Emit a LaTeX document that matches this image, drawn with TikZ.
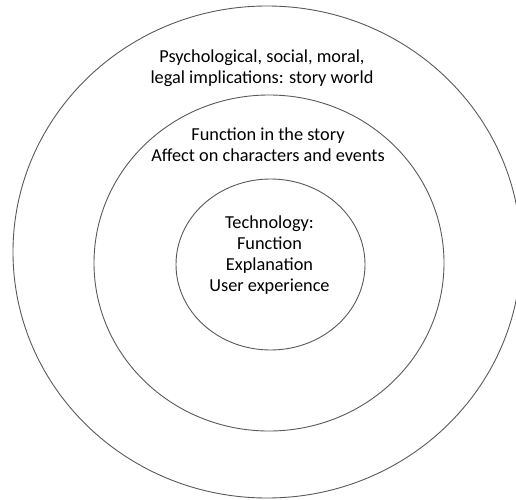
\documentclass[tikz,border=0pt]{standalone}
\usepackage{fontspec}
\setmainfont{Carlito}
\usetikzlibrary{positioning}

\begin{document}
\begin{tikzpicture}[x=1pt, y=1pt,
    ring/.style={draw=black!65, line width=0.9pt},
    ringtext/.style={align=center, inner sep=0pt,
        font=\fontsize{18.3}{21}\selectfont}]

% Canvas, same size as the reference
\useasboundingbox (0,0) rectangle (516,499);
\clip (0,0) rectangle (516,499);

% Three nested rings
\draw[ring] (267,247) ellipse [x radius=254, y radius=246];
\draw[ring] (269,236) ellipse [x radius=175, y radius=168];
\draw[ring] (270.5,234.5) ellipse [x radius=94.5, y radius=85.5];

% Outer ring: story world
\node[ringtext] (world) at (262,431)
    {Psychological, social, moral,\\legal implications: story world};

% Middle ring: story
\node[ringtext] (story) at (268,354.5)
    {Function in the story\\Affect on characters and events};

% Inner ring: technology
\node[ringtext] (tech) at (269.5,243.5)
    {Technology:\\Function\\Explanation\\User experience};

\end{tikzpicture}
\end{document}
